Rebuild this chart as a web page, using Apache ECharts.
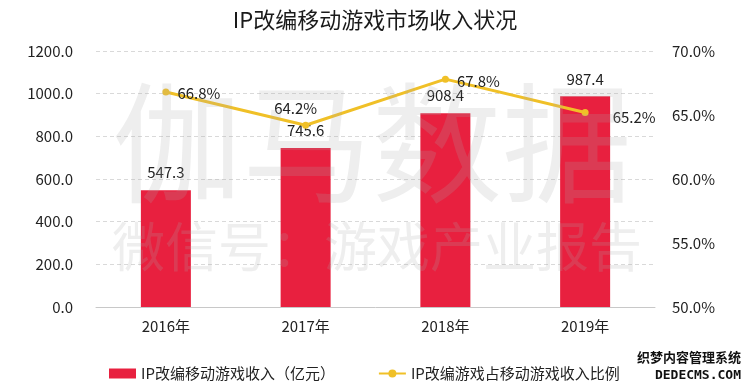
<!DOCTYPE html>
<html><head><meta charset="utf-8">
<script src="https://cdn.jsdelivr.net/npm/echarts@6/dist/echarts.min.js"></script>
<style>html,body{margin:0;padding:0;background:#fff}#c{width:750px;height:386px}</style>
</head><body><div id="c"></div>
<script>
const titleText = 'IP改编移动游戏市场收入状况';
const categories = ['2016年', '2017年', '2018年', '2019年'];
const revenue = [547.3, 745.6, 908.4, 987.4];
const ratio = [66.8, 64.2, 67.8, 65.2];
const barName = 'IP改编移动游戏收入（亿元）';
const lineName = 'IP改编游戏占移动游戏收入比例';
const leftTicks = [0, 1200, 200];
const rightTicks = [50, 70, 5];

const font = '"Noto Sans CJK SC", "Noto Sans", sans-serif';
const ratioLabelStyle = [
  {position: 'right', distance: 8, offset: [0, 1]},
  {position: 'top', distance: 6, offset: [-10, 0]},
  {position: 'right', distance: 8, offset: [0, 2]},
  {position: 'right', distance: 24, offset: [0, 5]}
];

const chart = echarts.init(document.getElementById('c'), null, {renderer: 'canvas'});
chart.setOption({
  animation: false,
  backgroundColor: '#fff',
  textStyle: {fontFamily: font},
  title: {text: titleText, left: 'center', top: 4,
    textStyle: {fontSize: 22, fontWeight: 'normal', color: '#1a1a1a', fontFamily: font}},
  grid: {left: 96, right: 95, top: 51, bottom: 79},
  legend: {
    top: 361, left: 104, itemGap: 43, itemWidth: 27, itemHeight: 10,
    textStyle: {fontSize: 15, color: '#222', fontFamily: font},
    data: [{name: barName, icon: 'rect'}, {name: lineName}]
  },
  xAxis: {type: 'category', data: categories,
    axisLine: {lineStyle: {color: '#c8c8c8'}}, axisTick: {show: false},
    axisLabel: {fontSize: 15, color: '#222', margin: 12, fontFamily: font}},
  yAxis: [
    {type: 'value', min: leftTicks[0], max: leftTicks[1], interval: leftTicks[2],
      axisLine: {show: false}, axisTick: {show: false},
      axisLabel: {fontSize: 15, color: '#222', margin: 23, formatter: v => v.toFixed(1), fontFamily: font},
      splitLine: {lineStyle: {color: '#d9d9d9', type: [4, 3]}}},
    {type: 'value', min: rightTicks[0], max: rightTicks[1], interval: rightTicks[2],
      axisLine: {show: false}, axisTick: {show: false},
      axisLabel: {fontSize: 15, color: '#222', margin: 17, formatter: v => v.toFixed(1) + '%', fontFamily: font},
      splitLine: {show: false}}
  ],
  series: [
    {name: barName, type: 'bar', data: revenue, barWidth: 50, yAxisIndex: 0,
      itemStyle: {color: '#E8203F'},
      label: {show: true, position: 'top', distance: 10, fontSize: 15, color: '#222',
        formatter: p => p.value.toFixed(1), fontFamily: font}},
    {name: lineName, type: 'line', yAxisIndex: 1, symbol: 'circle', symbolSize: 7,
      lineStyle: {color: '#F0C027', width: 3}, itemStyle: {color: '#F0C027'},
      data: ratio.map((v, i) => ({value: v,
        label: Object.assign({show: true, fontSize: 15, color: '#222', fontFamily: font,
          formatter: p => p.value.toFixed(1) + '%'}, ratioLabelStyle[i])}))}
  ],
  graphic: [
    {type: 'text', left: 112, top: 78, z: 100, silent: true,
      style: {text: '伽马数据', font: '130px "Noto Sans CJK SC"', fill: 'rgba(170,170,170,0.2)'}},
    {type: 'text', left: 112, top: 220, z: 100, silent: true,
      style: {text: '微信号：游戏产业报告', font: '53px "Noto Sans CJK SC"', fill: 'rgba(170,170,170,0.2)'}},
    {type: 'text', right: 8, top: 350, z: 100, silent: true,
      style: {text: '织梦内容管理系统', font: 'bold 13px "Noto Sans CJK SC"', fill: '#111', stroke: '#fff', lineWidth: 2}},
    {type: 'text', right: 8, top: 368, z: 100, silent: true,
      style: {text: 'DEDECMS.COM', font: 'bold 13px "DejaVu Sans Mono"', fill: '#111', stroke: '#fff', lineWidth: 2}}
  ]
});
</script></body></html>
